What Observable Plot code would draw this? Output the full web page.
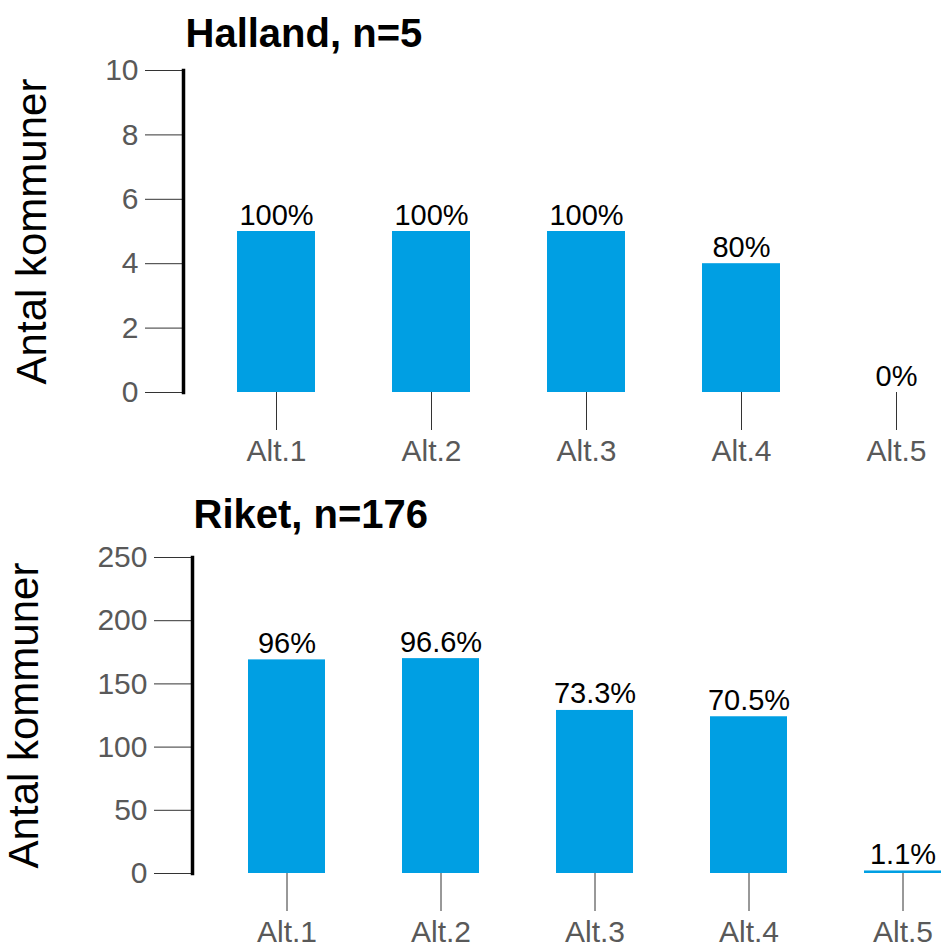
<!DOCTYPE html>
<html>
<head>
<meta charset="utf-8">
<script src="https://cdn.jsdelivr.net/npm/d3@7"></script>
<script src="https://cdn.jsdelivr.net/npm/@observablehq/plot@0.6"></script>
<style>
  body { margin: 0; background: white; }
  #wrap { width: 944px; }
  #wrap svg { display: block; }
</style>
</head>
<body>
<div id="wrap"></div>
<script>
const categories = ["Alt.1", "Alt.2", "Alt.3", "Alt.4", "Alt.5"];
const hallandCounts = [5, 5, 5, 4, 0];
const hallandLabels = ["100%", "100%", "100%", "80%", "0%"];
const hallandTicks = [0, 2, 4, 6, 8, 10];
const riketCounts = [169, 170, 129, 124, 2];
const riketLabels = ["96%", "96.6%", "73.3%", "70.5%", "1.1%"];
const riketTicks = [0, 50, 100, 150, 200, 250];
const titles = ["Halland, n=5", "Riket, n=176"];
const yLabel = "Antal kommuner";

const barColor = "#009FE3";
const font = "'Liberation Sans', Arial, sans-serif";

function panel({counts, labels, ticks, domain, title, height, marginTop, marginBottom, marginLeft, xRange, titleDx, titleDy, ylabDx}) {
  const data = categories.map((c, i) => ({cat: c, count: counts[i], label: labels[i]}));
  return Plot.plot({
    width: 944,
    height,
    marginTop,
    marginBottom,
    marginLeft,
    marginRight: 0,
    style: {fontFamily: font, fontSize: "30px", background: "white", overflow: "visible"},
    x: {type: "band", domain: categories, range: xRange, paddingInner: 0.5, paddingOuter: 0},
    y: {domain, range: [height - marginBottom, marginTop]},
    marks: [
      Plot.barY(data, {x: "cat", y: "count", fill: barColor}),
      Plot.text(data, {x: "cat", y: "count", text: "label", lineAnchor: "bottom", dy: -7, fontSize: 29, fill: "black"}),
      Plot.axisY({ticks, tickSize: 38, tickPadding: 7, fontSize: 30, stroke: "#333", fill: "#595959", label: null, tickFormat: d => String(d)}),
      Plot.axisX({tickSize: 38, tickPadding: 9, fontSize: 30, stroke: "#333", fill: "#595959", label: null}),
      Plot.frame({anchor: "left", stroke: "black", strokeWidth: 3.5}),
      Plot.text([yLabel], {frameAnchor: "left", text: d => d, rotate: -90, lineAnchor: "bottom", textAnchor: "middle", dx: ylabDx, fontSize: 42, fill: "black"}),
      Plot.text([title], {frameAnchor: "top-left", text: d => d, textAnchor: "start", lineAnchor: "bottom", dx: titleDx, dy: titleDy, fontSize: 40, fontWeight: "bold", fill: "black"})
    ]
  });
}

const wrap = document.getElementById("wrap");
wrap.appendChild(panel({
  counts: hallandCounts, labels: hallandLabels, ticks: hallandTicks, domain: [0, 10],
  title: titles[0], height: 480, marginTop: 70, marginBottom: 88, marginLeft: 183,
  xRange: [237, 934.5], titleDx: 2, titleDy: -24, ylabDx: -138
}));
wrap.appendChild(panel({
  counts: riketCounts, labels: riketLabels, ticks: riketTicks, domain: [0, 250],
  title: titles[1], height: 466, marginTop: 77, marginBottom: 73, marginLeft: 192,
  xRange: [246, 943], titleDx: 1, titleDy: -30, ylabDx: -155
}));
</script>
</body>
</html>
